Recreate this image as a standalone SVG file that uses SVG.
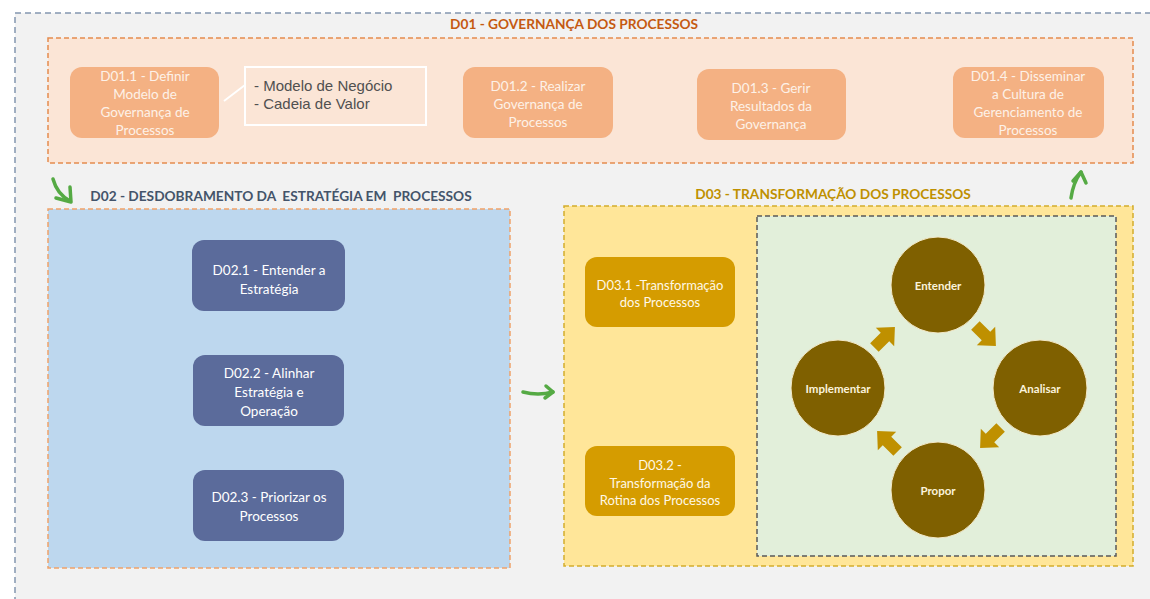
<svg xmlns="http://www.w3.org/2000/svg" width="1150" height="599" viewBox="0 0 1150 599">
<defs>
<style>
.frame{fill:#f2f2f2;stroke:#8497b0;stroke-width:1.5;stroke-dasharray:6 4}
.grp{stroke-width:1.5;stroke-dasharray:5 3}
.ttl{font-family:Lato,"Open Sans",sans-serif;font-weight:700;font-size:13.7px;text-anchor:middle;white-space:pre}
.t1{font-family:Lato,"Open Sans",sans-serif;font-size:13.5px;text-anchor:middle;fill:#fdf1e8}
.t2{font-family:Lato,"Open Sans",sans-serif;font-size:13.5px;text-anchor:middle;fill:#ffffff}
.t3{font-family:Lato,"Open Sans",sans-serif;font-size:13px;text-anchor:middle;fill:#fff8e6}
.tc{font-family:Lato,"Open Sans",sans-serif;font-size:11.5px;font-weight:700;text-anchor:middle;fill:#fbf3dc}
.co{font-family:"Liberation Sans",Arial,sans-serif;font-size:15px;fill:#505050}
.n1{fill:#f4b183}
.n2{fill:#5b6b9b}
.n3{fill:#d59c00}
.circ{fill:#7f6000;stroke:#f3e9c8;stroke-width:1}
.blk{fill:#bf9000}
.gr{fill:none;stroke:#55aa44;stroke-width:3.5;stroke-linecap:round;stroke-linejoin:round}
</style>
<path id="blk" d="M-15,-6 L0,-6 L0,-13 L14,0 L0,13 L0,6 L-15,6 Z"/>
</defs>

<rect class="frame" x="15" y="13" width="1160" height="620"/>

<g id="D01">
<rect class="grp" x="48" y="38" width="1085" height="125" fill="#fbe5d6" stroke="#e58c4f"/>
<text class="ttl" x="574" y="29" fill="#c55a11">D01 - GOVERNANÇA DOS PROCESSOS</text>
</g>

<g id="D01.1">
<rect class="n1" x="70" y="67" width="149" height="71" rx="12"/>
<text class="t1" x="145" y="81">D01.1 - Definir</text>
<text class="t1" x="145" y="99">Modelo de</text>
<text class="t1" x="145" y="117">Governança de</text>
<text class="t1" x="145" y="135">Processos</text>
</g>

<g id="callout">
<rect x="245" y="67" width="181" height="58" fill="none" stroke="#ffffff" stroke-width="2"/>
<text class="co" x="254" y="91">- Modelo de Negócio</text>
<text class="co" x="254" y="109">- Cadeia de Valor</text>
</g>

<g id="D01.2">
<rect class="n1" x="463" y="67" width="150" height="71" rx="12"/>
<text class="t1" x="538" y="91">D01.2 - Realizar</text>
<text class="t1" x="538" y="109">Governança de</text>
<text class="t1" x="538" y="127">Processos</text>
</g>

<g id="D01.3">
<rect class="n1" x="697" y="69" width="149" height="71" rx="12"/>
<text class="t1" x="771" y="93">D01.3 - Gerir</text>
<text class="t1" x="771" y="111">Resultados da</text>
<text class="t1" x="771" y="129">Governança</text>
</g>

<g id="D01.4">
<rect class="n1" x="953" y="67" width="151" height="71" rx="12"/>
<text class="t1" x="1028" y="81">D01.4 - Disseminar</text>
<text class="t1" x="1028" y="99">a Cultura de</text>
<text class="t1" x="1028" y="117">Gerenciamento de</text>
<text class="t1" x="1028" y="135">Processos</text>
</g>

<g id="D02">
<rect class="grp" x="48" y="209" width="462" height="359" fill="#bdd7ee" stroke="#f0a36a"/>
<text class="ttl" x="281" y="201" fill="#44546a">D02 - DESDOBRAMENTO DA  ESTRATÉGIA EM  PROCESSOS</text>
</g>

<g id="D02.1">
<rect class="n2" x="192" y="240" width="153" height="71" rx="12"/>
<text class="t2" x="269" y="275">D02.1 - Entender a</text>
<text class="t2" x="269" y="294">Estratégia</text>
</g>

<g id="D02.2">
<rect class="n2" x="193" y="355" width="151" height="71" rx="12"/>
<text class="t2" x="269" y="378">D02.2 - Alinhar</text>
<text class="t2" x="269" y="397">Estratégia e</text>
<text class="t2" x="269" y="416">Operação</text>
</g>

<g id="D02.3">
<rect class="n2" x="193" y="470" width="151" height="71" rx="12"/>
<text class="t2" x="269" y="502">D02.3 - Priorizar os</text>
<text class="t2" x="269" y="521">Processos</text>
</g>

<g id="D03">
<rect class="grp" x="564" y="206" width="569" height="360" fill="#ffe699" stroke="#d4ad2c"/>
<text class="ttl" x="833" y="199" fill="#bf9000">D03 - TRANSFORMAÇÃO DOS PROCESSOS</text>
</g>

<g id="cycle">
<rect class="grp" x="757" y="216" width="359" height="340" fill="#e2efda" stroke="#595959"/>
</g>

<g id="D03.1">
<rect class="n3" x="585" y="257" width="150" height="70" rx="12"/>
<text class="t3" x="660" y="290">D03.1 -Transformação</text>
<text class="t3" x="660" y="307">dos Processos</text>
</g>

<g id="D03.2">
<rect class="n3" x="585" y="446" width="150" height="70" rx="12"/>
<text class="t3" x="660" y="470">D03.2 -</text>
<text class="t3" x="660" y="488">Transformação da</text>
<text class="t3" x="660" y="505">Rotina dos Processos</text>
</g>

<g id="Entender">
<ellipse class="circ" cx="938" cy="285" rx="47" ry="48"/>
<text class="tc" x="938" y="290">Entender</text>
</g>
<g id="Analisar">
<ellipse class="circ" cx="1040" cy="388" rx="47" ry="48"/>
<text class="tc" x="1040" y="393">Analisar</text>
</g>
<g id="Propor">
<ellipse class="circ" cx="938" cy="490" rx="47" ry="48"/>
<text class="tc" x="938" y="495">Propor</text>
</g>
<g id="Implementar">
<ellipse class="circ" cx="838" cy="388" rx="47" ry="48"/>
<text class="tc" x="838" y="393">Implementar</text>
</g>

<g id="connectors">
<line x1="224" y1="101" x2="245" y2="85" stroke="#ffffff" stroke-width="2"/>
<use href="#blk" class="blk" transform="translate(885,337) rotate(-45)"/>
<use href="#blk" class="blk" transform="translate(986,336) rotate(45)"/>
<use href="#blk" class="blk" transform="translate(990,438) rotate(135)"/>
<use href="#blk" class="blk" transform="translate(887,441) rotate(-135)"/>
<path class="gr" d="M53,179 Q57,194 70,201"/>
<path class="gr" d="M56,198 L71,202 L70,187"/>
<path class="gr" d="M1071,198 Q1073,183 1081,172"/>
<path class="gr" d="M1073,181 L1081,172 L1086,183"/>
<path class="gr" d="M523,392 Q538,396 553,392"/>
<path class="gr" d="M546,386 L553,392 L545,398"/>
</g>
</svg>
